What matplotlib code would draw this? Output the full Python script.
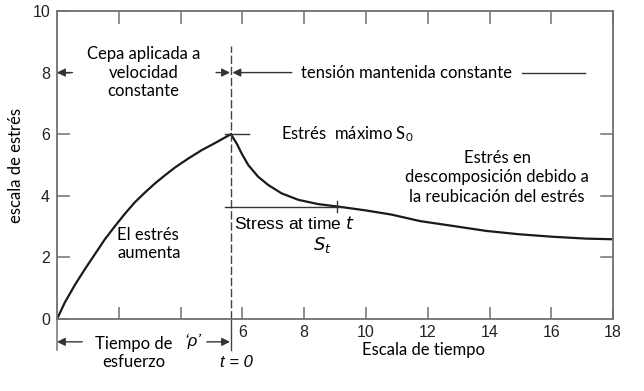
import matplotlib
matplotlib.use("Agg")
from matplotlib import pyplot as plt

# curva de carga (tiempo, estrés)
t_sube = [0.0, 0.26, 0.58, 0.91, 1.23, 1.55, 1.88, 2.2, 2.52, 2.85, 3.17, 3.5, 3.82, 4.25, 4.68, 5.11, 5.63]
s_sube = [0.0, 0.55, 1.11, 1.63, 2.11, 2.59, 3.02, 3.42, 3.79, 4.11, 4.40, 4.67, 4.92, 5.21, 5.48, 5.71, 6.0]
# curva de relajación
t_baja = [5.63, 5.82, 5.98, 6.19, 6.51, 6.84, 7.27, 7.81, 8.46, 9.1, 9.97, 10.83, 11.75,
          12.83, 13.9, 14.98, 16.06, 17.14, 18.0]
s_baja = [6.0, 5.69, 5.37, 5.0, 4.62, 4.35, 4.08, 3.87, 3.73, 3.65, 3.53, 3.39, 3.18,
          3.02, 2.86, 2.75, 2.67, 2.61, 2.59]

x_ticks = [2, 4, 6, 8, 10, 12, 14, 16, 18]
x_labels = ["", "", "6", "8", "10", "12", "14", "16", "18"]
y_ticks = [0, 2, 4, 6, 8, 10]
t0 = 5.63
s_t = (9.07, 3.65)

sans = ["Lato", "DejaVu Sans"]
arial = ["Liberation Sans", "DejaVu Sans"]
gris = "#707070"

fig = plt.figure(figsize=(6.44, 3.91), dpi=100)
ax = fig.add_axes([0.0885, 0.184, 0.8635, 0.788])

ax.plot(t_sube, s_sube, color="#1a1a1a", lw=1.6)
ax.plot(t_baja, s_baja, color="#1a1a1a", lw=1.6)

ax.set_xlim(0, 18)
ax.set_ylim(0, 10)
for sp in ax.spines.values():
    sp.set_color(gris)
    sp.set_linewidth(1.3)

ax.set_xticks(x_ticks)
ax.set_xticklabels(x_labels, fontfamily=arial, fontsize=11.5)
ax.set_yticks(y_ticks)
ax.set_yticklabels([str(v) for v in y_ticks], fontfamily=arial, fontsize=11.5)
ax.tick_params(direction="in", length=9, width=1.1, color=gris, top=True, labelcolor="#222222")
ax.tick_params(axis="x", pad=4)
ax.tick_params(axis="y", pad=5)
# ticks del lado derecho solo en 2, 4, 6
for v in [2, 4, 6]:
    ax.plot([17.6, 18], [v, v], color=gris, lw=1.1, clip_on=False)

ax.set_ylabel("escala de estrés", fontfamily=sans, fontsize=12, labelpad=6)

# línea discontinua en t = 0
ax.plot([t0, t0], [0, 8.85], color="#444444", lw=1, ls=(0, (6, 2)), clip_on=False)
ax.plot([t0, t0], [0, -1.0], color="#444444", lw=1, clip_on=False)
ax.plot([0, 0], [0, -1.0], color=gris, lw=1.1, clip_on=False)

# marcas en el máximo y en S_t
ax.plot([5.44, 6.22], [6, 6], color="#333333", lw=1)
ax.plot([5.44, 9.2], [s_t[1], s_t[1]], color="#333333", lw=1)
ax.plot([s_t[0], s_t[0]], [s_t[1] - 0.17, s_t[1] + 0.17], color="#333333", lw=1)

flecha = dict(arrowstyle="-|>", color="#333333", lw=1, mutation_scale=12, shrinkA=0, shrinkB=0)
ax.annotate("", xy=(0, 8), xytext=(0.5, 8), arrowprops=flecha, annotation_clip=False)
ax.annotate("", xy=(t0 - 0.03, 8), xytext=(5.15, 8), arrowprops=flecha)
ax.annotate("", xy=(t0 + 0.05, 8), xytext=(7.6, 8), arrowprops=flecha)
ax.plot([15.05, 17.1], [8, 8], color="#333333", lw=1)
ax.annotate("", xy=(0, -0.74), xytext=(0.82, -0.74), arrowprops=flecha, annotation_clip=False)
ax.annotate("", xy=(t0 - 0.03, -0.74), xytext=(4.85, -0.74), arrowprops=flecha, annotation_clip=False)

ax.text(2.8, 8.0, "Cepa aplicada a\nvelocidad\nconstante", fontfamily=sans, fontsize=12,
        ha="center", va="center", linespacing=1.2)
ax.text(11.3, 8.0, "tensión mantenida constante", fontfamily=sans, fontsize=12,
        ha="center", va="center")
ax.text(7.25, 6.0, "Estrés  máximo $\\mathregular{S_0}$", fontfamily=sans, fontsize=12, va="center")
ax.text(14.25, 4.6, "Estrés en\ndescomposición debido a\nla reubicación del estrés", fontfamily=sans,
        fontsize=12, ha="center", va="center", linespacing=1.25)
ax.text(5.72, 3.1, "Stress at time $\\it{t}$", fontfamily=arial, fontsize=12.5, va="center")
ax.text(8.6, 2.4, "$\\it{S_t}$", fontfamily=arial, fontsize=13, ha="center", va="center")
ax.text(1.95, 2.43, "El estrés\naumenta", fontfamily=sans, fontsize=12, va="center", linespacing=1.2)
ax.text(2.5, -1.1, "Tiempo de\nesfuerzo", fontfamily=sans, fontsize=12, ha="center", va="center",
        linespacing=1.2, clip_on=False)
ax.text(4.4, -0.74, "\u2018\u03c1\u2019", fontfamily=arial, fontsize=12, style="italic", ha="center",
        va="center", clip_on=False)
ax.text(5.8, -1.4, "t = 0", fontfamily=arial, fontsize=12, style="italic", ha="center", va="center",
        clip_on=False)
ax.text(11.85, -1.0, "Escala de tiempo", fontfamily=sans, fontsize=12, ha="center", va="center",
        clip_on=False)

fig.savefig("out.png", dpi=100)
